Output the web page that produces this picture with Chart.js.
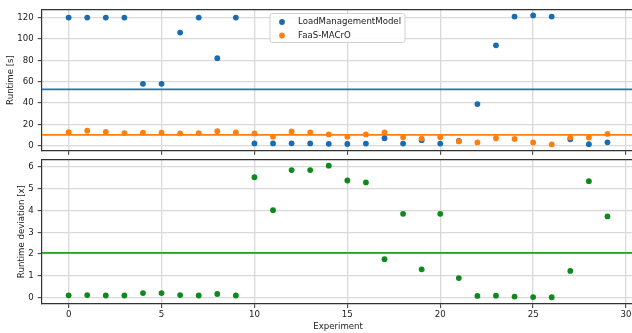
<!DOCTYPE html>
<html>
<head>
<meta charset="utf-8">
<script src="https://cdn.jsdelivr.net/npm/chart.js@4"></script>
<style>
  html, body { margin: 0; padding: 0; background: #fff; overflow: hidden; }
  #wrap { position: relative; width: 632px; height: 333px; overflow: hidden; }
  canvas { position: absolute; left: 0; }
  #runtime { top: 0; }
  #deviation { top: 150px; }
</style>
</head>
<body>
<div id="wrap">
  <canvas id="deviation" width="640" height="183"></canvas>
  <canvas id="runtime" width="640" height="160"></canvas>
</div>
<script>
// experiment index on the shared x axis
const experiments = [0, 1, 2, 3, 4, 5, 6, 7, 8, 9, 10, 11, 12, 13, 14, 15, 16, 17, 18, 19, 20, 21, 22, 23, 24, 25, 26, 27, 28, 29];

// runtime in seconds
const loadMgmtRuntime = [120, 120, 120, 120, 58, 58, 106, 120, 82, 120, 2.1, 2.1, 2.2, 2.1, 1.8, 1.6, 2, 7, 2, 5.2, 2, 4.4, 39, 94, 121, 122, 121, 6, 1.4, 3.2];
const faasRuntime = [12.7, 14, 13, 11.8, 12.2, 12.2, 11.5, 11.8, 13.6, 12.5, 11.5, 8.5, 13.3, 12.5, 10.6, 8.5, 10.6, 12.5, 7.9, 6.7, 7.9, 4, 3.1, 7, 6.4, 3, 1.2, 7.6, 7.6, 11];
const runtimeMeans = [52.8, 10.2];

// runtime deviation factor
const deviation = [0.11, 0.12, 0.1, 0.1, 0.21, 0.21, 0.12, 0.1, 0.17, 0.1, 5.53, 4.02, 5.86, 5.86, 6.06, 5.38, 5.29, 1.77, 3.85, 1.3, 3.85, 0.9, 0.08, 0.09, 0.05, 0.03, 0.02, 1.23, 5.35, 3.73];
const deviationMean = 2.06;

const experimentTicks = [0, 5, 10, 15, 20, 25, 30];
const runtimeTicks = [0, 20, 40, 60, 80, 100, 120];
const deviationTicks = [0, 1, 2, 3, 4, 5, 6];

const X_MIN = -1.45, X_MAX = 30.45;
const AXIS_W = 41.7;
const frameColor = '#333333';
const gridColor = '#d9d9d9';

Chart.defaults.font.family = "'DejaVu Sans', sans-serif";
Chart.defaults.font.size = 8.6;
Chart.defaults.color = '#1a1a1a';

function pts(ys) {
  return experiments.map((x, i) => ({ x, y: ys[i] }));
}

function meanLine(v) {
  return [{ x: X_MIN, y: v }, { x: X_MAX, y: v }];
}

function fixedTicks(list) {
  return scale => { scale.ticks = list.map(v => ({ value: v })); };
}

function scatterSet(label, ys, color, order) {
  return {
    label, data: pts(ys), order,
    backgroundColor: color, borderWidth: 0,
    pointRadius: 2.9, pointHoverRadius: 2.9
  };
}

function lineSet(v, color) {
  return {
    data: meanLine(v), showLine: true, order: 5,
    borderColor: color, borderWidth: 1.8, pointRadius: 0
  };
}

function xAxis(showLabels) {
  return {
    type: 'linear', position: 'bottom', min: X_MIN, max: X_MAX,
    afterBuildTicks: fixedTicks(experimentTicks),
    afterFit: s => { s.height = showLabels ? 29 : 0; },
    grid: { color: gridColor, lineWidth: 1.3, tickColor: frameColor, tickLength: 4, tickWidth: 1 },
    border: { color: frameColor, width: 1.2 },
    ticks: { display: showLabels, padding: 2, maxRotation: 0 },
    title: { display: showLabels, text: 'Experiment', padding: { top: 0, bottom: 1 } }
  };
}

function topFrame() {
  return {
    type: 'linear', position: 'top', min: X_MIN, max: X_MAX,
    grid: { display: false }, ticks: { display: false },
    border: { color: frameColor, width: 1.2 },
    afterFit: s => { s.height = 0; }
  };
}

function yAxis(min, max, list, text, titlePad) {
  return {
    type: 'linear', position: 'left', min, max,
    afterBuildTicks: fixedTicks(list),
    afterFit: s => { s.width = AXIS_W; },
    grid: { color: gridColor, lineWidth: 1.3, tickColor: frameColor, tickLength: 4, tickWidth: 1 },
    border: { color: frameColor, width: 1.2 },
    ticks: { padding: 4 },
    title: { display: true, text, padding: { top: titlePad, bottom: 0 } }
  };
}

// matplotlib-like legend box inside the axes
const boxLegend = {
  id: 'boxLegend',
  afterDatasetsDraw(chart, args, opts) {
    if (!opts.show) return;
    const items = chart.data.datasets.filter(d => d.label);
    const ctx = chart.ctx;
    ctx.save();
    ctx.beginPath();
    ctx.roundRect(opts.x, opts.y, opts.w, opts.rowH * items.length + 2, 2.5);
    ctx.fillStyle = 'rgba(255,255,255,0.85)';
    ctx.fill();
    ctx.strokeStyle = '#d0d0d0';
    ctx.lineWidth = 1;
    ctx.stroke();
    ctx.font = "8.6px 'DejaVu Sans', sans-serif";
    ctx.textBaseline = 'middle';
    items.forEach((d, i) => {
      const cy = opts.y + 8.5 + i * opts.rowH;
      ctx.beginPath();
      ctx.arc(opts.x + 12, cy, 2.9, 0, Math.PI * 2);
      ctx.fillStyle = d.backgroundColor;
      ctx.fill();
      ctx.fillStyle = '#1a1a1a';
      ctx.fillText(d.label, opts.x + 28, cy);
    });
    ctx.restore();
  }
};

new Chart(document.getElementById('runtime'), {
  type: 'scatter',
  data: {
    datasets: [
      scatterSet('LoadManagementModel', loadMgmtRuntime, '#1a6cb2', 2),
      scatterSet('FaaS-MACrO', faasRuntime, '#ff7f0e', 1),
      lineSet(runtimeMeans[0], '#1f77b4'),
      lineSet(runtimeMeans[1], '#ff7f0e')
    ]
  },
  options: {
    responsive: false,
    animation: false,
    layout: { padding: { top: 9, left: 0, right: 5.6, bottom: 5 } },
    scales: {
      x: xAxis(false),
      xTop: topFrame(),
      y: yAxis(-4.8, 127.9, runtimeTicks, 'Runtime [s]', 6)
    },
    plugins: {
      legend: { display: false },
      tooltip: { enabled: false },
      boxLegend: { show: true, x: 270, y: 13.5, w: 135, rowH: 13.5 }
    }
  },
  plugins: [boxLegend]
});

new Chart(document.getElementById('deviation'), {
  type: 'scatter',
  data: {
    datasets: [
      scatterSet('', deviation, '#0e8a1c', 1),
      lineSet(deviationMean, '#22a022')
    ]
  },
  options: {
    responsive: false,
    animation: false,
    layout: { padding: { top: 7.7, left: 0, right: 5.6, bottom: 0 } },
    scales: {
      x: xAxis(true),
      xTop: topFrame(),
      y: yAxis(-0.29, 6.36, deviationTicks, 'Runtime deviation [x]', 16.8)
    },
    plugins: {
      legend: { display: false },
      tooltip: { enabled: false },
      boxLegend: { show: false }
    }
  },
  plugins: [boxLegend]
});
</script>
</body>
</html>
